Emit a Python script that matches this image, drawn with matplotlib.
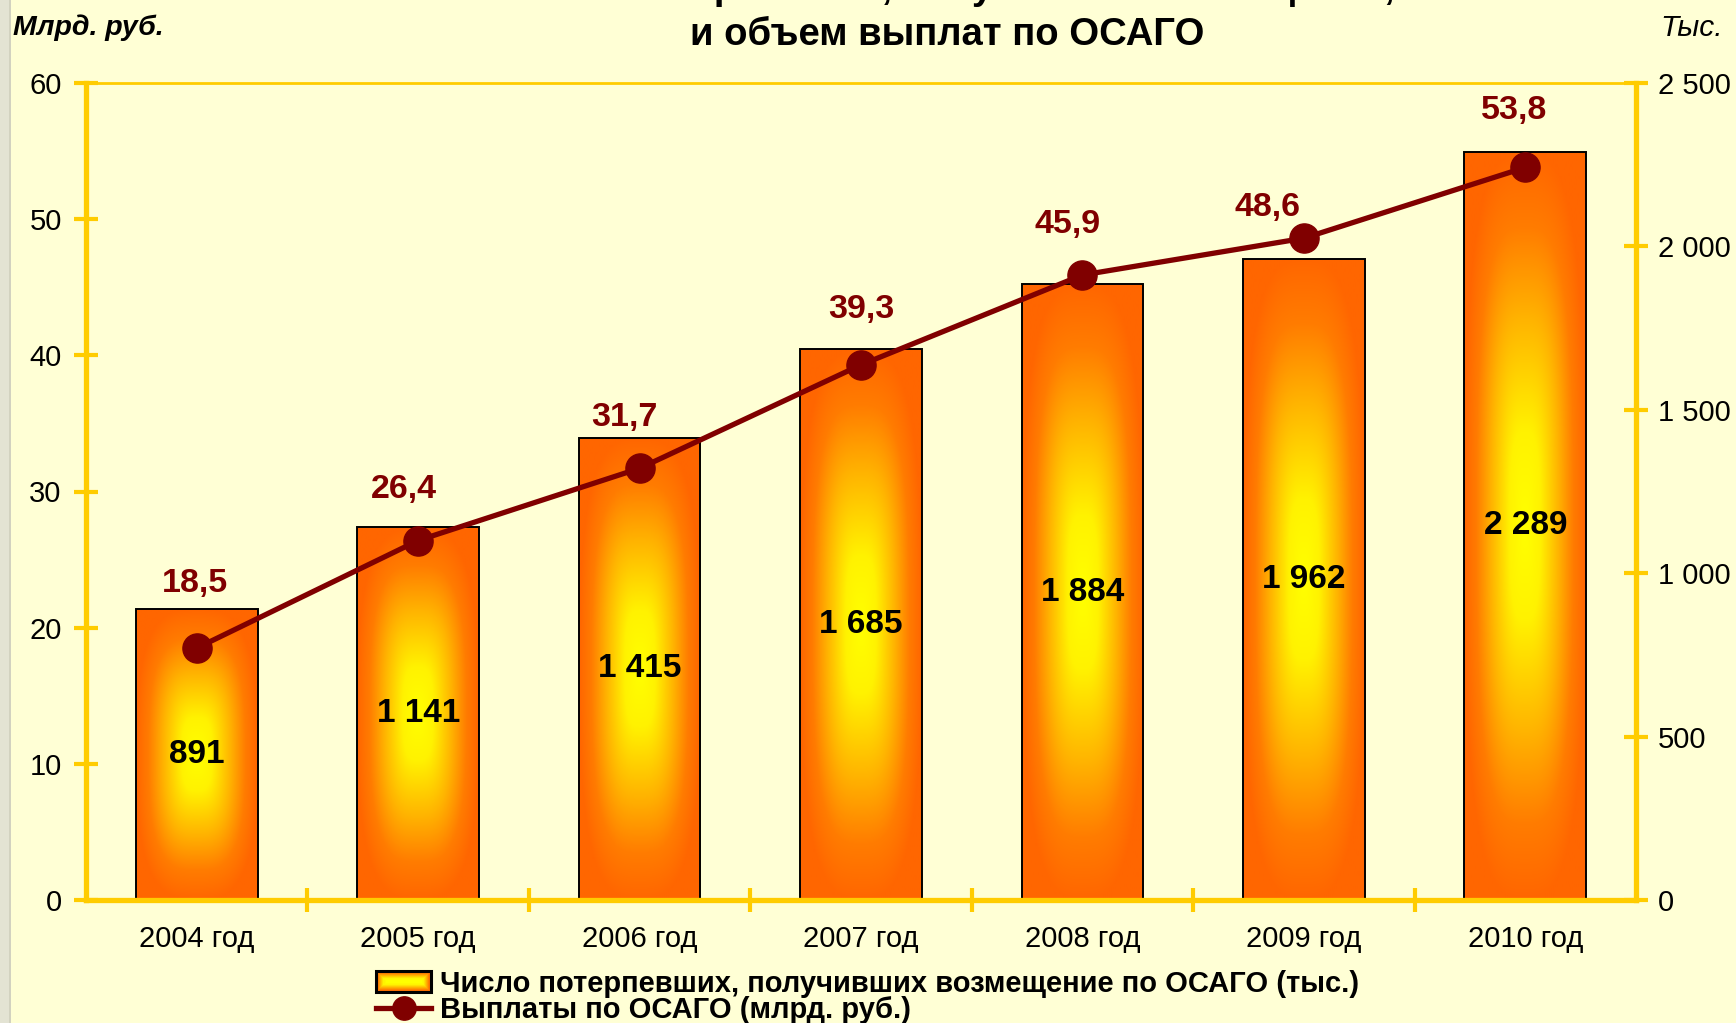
import numpy as np
import matplotlib
matplotlib.use("Agg")
import matplotlib.pyplot as plt
from matplotlib.patches import Rectangle
from matplotlib.colors import LinearSegmentedColormap
from matplotlib.legend_handler import HandlerBase
from matplotlib.ticker import FuncFormatter

plt.rcParams['font.family'] = ['Liberation Sans', 'DejaVu Sans']

# ---- data ----
years = ["2004 год", "2005 год", "2006 год", "2007 год", "2008 год", "2009 год", "2010 год"]
victims_thousand = [891, 1141, 1415, 1685, 1884, 1962, 2289]   # bars, right axis
payouts_bln = [18.5, 26.4, 31.7, 39.3, 45.9, 48.6, 53.8]       # line, left axis
left_ticks = [0, 10, 20, 30, 40, 50, 60]
right_ticks = [0, 500, 1000, 1500, 2000, 2500]

# label placement for the payout values (pixels from the point)
label_offsets = [(-2, 65), (-14, 51), (-15, 51), (0, 55), (-15, 50), (-36, 31), (-11, 57)]

BG = "#FFFFD5"
GOLD = "#FFCC00"
DARKRED = "#800000"

def fmt_thousands(v):
    return f"{int(round(v)):,}".replace(",", " ")

def fmt_decimal(v):
    return f"{v:.1f}".replace(".", ",")

bar_cmap = LinearSegmentedColormap.from_list(
    "bar", [(0.0, "#FFFF00"), (0.25, "#FFF200"), (0.55, "#FFB400"),
            (0.8, "#FF7C00"), (1.0, "#FF6600")])

W, H, DPI = 1736, 1023, 100
fig = plt.figure(figsize=(W / DPI, H / DPI), dpi=DPI, facecolor=BG)

# thin grey strip on the left edge
fig.patches.append(Rectangle((0, 0), 9 / W, 1, transform=fig.transFigure,
                             facecolor="#E3E3D3", edgecolor="none", zorder=0))
fig.patches.append(Rectangle((9 / W, 0), 1.5 / W, 1, transform=fig.transFigure,
                             facecolor="#D2D2C0", edgecolor="none", zorder=0))

ax = fig.add_axes([86 / W, 1 - 900 / H, (1636 - 86) / W, (900 - 83) / H])
ax.set_facecolor(BG)
ax2 = ax.twinx()

x = np.arange(len(years))
bar_w = 0.55

ax.set_xlim(-0.5, len(years) - 0.5)
ax.set_ylim(0, 2500)
ax2.set_ylim(0, 60)

# bars: black outline, gradient fill clipped to each bar
bars = ax.bar(x, victims_thousand, width=bar_w, facecolor="none",
              edgecolor="black", linewidth=1.4, zorder=2)

ax_w_px = (1636 - 86)
ax_h_px = (900 - 83)
for rect, v in zip(bars, victims_thousand):
    x0 = rect.get_x()
    x1 = x0 + rect.get_width()
    wpx = rect.get_width() / (len(years)) * ax_w_px
    hpx = v / 2500 * ax_h_px
    nx, ny = int(wpx), int(hpx)
    u = np.linspace(-1, 1, nx)
    w_ = np.linspace(-1, 1, ny)
    U, V = np.meshgrid(u, w_)
    p = 3.0
    t = (np.abs(U) ** p + np.abs(V) ** p) ** (1 / p)
    img = bar_cmap(np.clip(t, 0, 1))
    im = ax.imshow(img, extent=(x0, x1, 0, v), origin="lower",
                   aspect="auto", zorder=1.5, interpolation="bilinear")
    im.set_clip_path(rect)

for xi, v in zip(x, victims_thousand):
    ax.text(xi, v / 2, fmt_thousands(v), ha="center", va="center",
            fontsize=24, fontweight="bold", color="black", zorder=3)

# payouts line
line, = ax2.plot(x, payouts_bln, color=DARKRED, linewidth=3.8, marker="o",
                 markersize=21, markerfacecolor=DARKRED, markeredgecolor=DARKRED,
                 zorder=4)
for xi, v, (dx, dy) in zip(x, payouts_bln, label_offsets):
    ax2.annotate(fmt_decimal(v), (xi, v), xytext=(dx, dy),
                 textcoords="offset pixels", ha="center", va="center",
                 fontsize=24.5, fontweight="bold", color=DARKRED, zorder=5)

ax.set_xlim(-0.5, len(years) - 0.5)

# axes styling
ax.yaxis.tick_right()
ax2.yaxis.tick_left()
ax.set_yticks(right_ticks)
ax.yaxis.set_major_formatter(FuncFormatter(lambda v, p: fmt_thousands(v)))
ax2.set_yticks(left_ticks)
ax2.set_yticklabels([str(t) for t in left_ticks])

for a in (ax, ax2):
    a.tick_params(axis="y", direction="inout", length=17, width=3, color=GOLD,
                  labelsize=21, labelcolor="black")
ax.tick_params(axis="y", pad=7)
ax2.tick_params(axis="y", pad=9)

ax.set_xticks(x)
ax.set_xticklabels(years)
ax.set_xticks(x[:-1] + 0.5, minor=True)
ax.tick_params(axis="x", which="major", length=0, labelsize=21, pad=18)
ax.tick_params(axis="x", which="minor", direction="inout", length=17, width=3, color=GOLD)

for s in ("left", "right", "bottom"):
    ax.spines[s].set_color(GOLD)
    ax.spines[s].set_linewidth(3.8)
ax.spines["top"].set_color(GOLD)
ax.spines["top"].set_linewidth(2)
for s in ax2.spines.values():
    s.set_visible(False)

# titles and unit captions
fig.text(947 / W, 1 + 1 / H, "Число потерпевших, получивших возмещение,",
         ha="center", va="baseline", fontsize=27.5, fontweight="bold")
fig.text(947 / W, 1 - 45 / H, "и объем выплат по ОСАГО",
         ha="center", va="baseline", fontsize=27.5, fontweight="bold")
fig.text(13 / W, 1 - 28 / H, "Млрд. руб.", ha="left", va="center",
         fontsize=20.5, fontstyle="italic", fontweight="bold")
fig.text(1723 / W, 1 - 28 / H, "Тыс.", ha="right", va="center",
         fontsize=21.5, fontstyle="italic")

# legend
class GradientBoxHandler(HandlerBase):
    def create_artists(self, legend, orig_handle, xdescent, ydescent,
                       width, height, fontsize, trans):
        arts = []
        n = 10
        half = height / 2
        for k in range(n):
            inset = half * k / n
            col = bar_cmap(1 - k / (n - 1))
            r = Rectangle((-xdescent + inset, -ydescent + inset),
                          width - 2 * inset, max(height - 2 * inset, 0.5),
                          facecolor=col, edgecolor="none", transform=trans)
            arts.append(r)
        outline = Rectangle((-xdescent, -ydescent), width, height,
                            facecolor="none", edgecolor="black", linewidth=2.2,
                            transform=trans)
        arts.append(outline)
        return arts

bar_proxy = Rectangle((0, 0), 1, 1)
fig.legend([bar_proxy, line],
           ["Число потерпевших, получивших возмещение по ОСАГО (тыс.)",
            "Выплаты по ОСАГО (млрд. руб.)"],
           handler_map={Rectangle: GradientBoxHandler()},
           loc="center left", bbox_to_anchor=(376 / W, 1 - 997 / H),
           frameon=False, prop={"size": 21, "weight": "bold"},
           handlelength=1.9, handleheight=0.75, handletextpad=0.3,
           labelspacing=-0.05, borderpad=0, borderaxespad=0, markerscale=0.8)

fig.savefig("out.png", dpi=DPI, facecolor=BG)
